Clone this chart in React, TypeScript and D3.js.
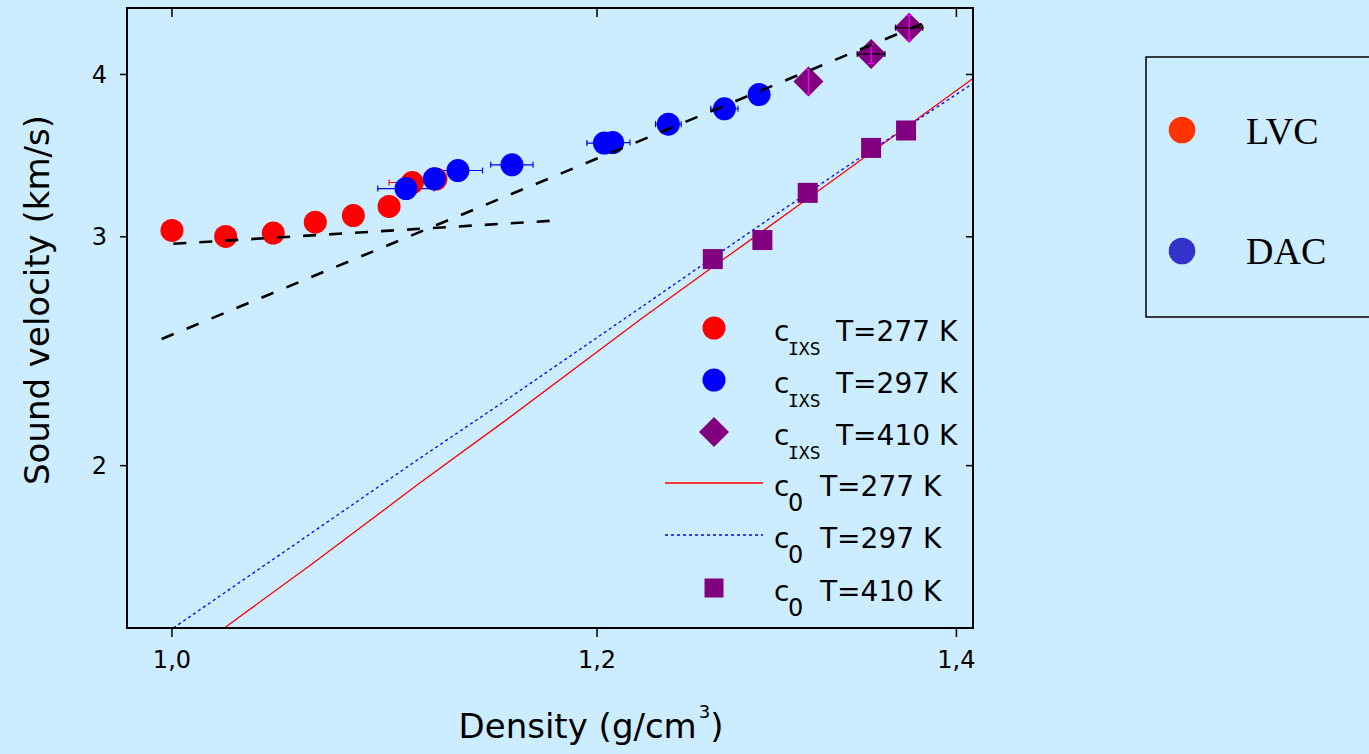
import React from "react";
import * as d3 from "d3";

// ---------- data ----------
const xTicks = [1.0, 1.2, 1.4];
const yTicks = [2, 3, 4];

// c_IXS, T=277 K (red circles)
const redD = [1.0, 1.0233, 1.0444, 1.0634, 1.0809, 1.0976, 1.1086, 1.1199];
const redV = [3.034, 3.002, 3.02, 3.079, 3.115, 3.166, 3.303, 3.323];
const redXErr = [0, 0, 0, 0, 0, 0, 0.011, 0];
const redYErr = [0, 0, 0, 0, 0, 0, 0.03, 0.05];

// c_IXS, T=297 K (blue circles)
const blueD = [1.1056, 1.1191, 1.1305, 1.157, 1.2038, 1.2081, 1.2373, 1.2674, 1.2864];
const blueV = [3.268, 3.325, 3.374, 3.408, 3.542, 3.545, 3.663, 3.764, 3.86];
const blueXErr = [0.0133, 0, 0.012, 0.0105, 0.009, 0.009, 0.0068, 0.0074, 0.002];

// c_IXS, T=410 K (diamonds)
const diaD = [1.3139, 1.3497, 1.3719];
const diaV = [3.95, 4.148, 4.346];
const diaXErr = [0, 0.008, 0.008];
const diaYErr = [0.085, 0.07, 0.095];

// c0, T=410 K (squares)
const sqD = [1.2611, 1.2882, 1.3135, 1.3497, 1.3701];
const sqV = [2.884, 2.983, 3.243, 3.512, 3.622];

// c0, T=277 K (red solid line)
const c277D = [1.0227, 1.0625, 1.1123, 1.1544, 1.2223, 1.2614, 1.3101, 1.4102];
const c277V = [1.5, 1.683, 1.94, 2.17, 2.59, 2.846, 3.185, 3.974];

// c0, T=297 K (blue dotted line)
const c297D = [1.0006, 1.0474, 1.1123, 1.1544, 1.2223, 1.2832, 1.3357, 1.4102];
const c297V = [1.5, 1.708, 2.027, 2.248, 2.644, 3.038, 3.398, 3.939];

// dashed guide lines
const fitAD = [1.0006, 1.176];
const fitAV = [2.963, 3.086];
const fitBD = [0.9956, 1.3794];
const fitBV = [2.503, 4.375];

const legendTemps = ["T=277 K", "T=297 K", "T=410 K", "T=277 K", "T=297 K", "T=410 K"];
const sideLegend = ["LVC", "DAC"];

// ---------- layout ----------
const W = 1369;
const H = 754;
const L = 127, R = 973, T = 8, B = 628;
const BG = "#CCECFF";
const PURPLE = "#800080";
const FONT = "'Comic Sans MS', 'DejaVu Sans', sans-serif";

const x = d3.scaleLog().domain([0.9809, 1.41]).range([L, R]);
const y = d3.scaleLog().domain([1.5, 4.5]).range([B, T]);
const fmt = (v: number) => d3.format(".1f")(v).replace(".", ",");

const zip = (a: number[], b: number[]) => a.map((v, i) => [v, b[i]] as [number, number]);
const line = d3
  .line<[number, number]>()
  .x((d) => x(d[0]))
  .y((d) => y(d[1]));

function HErr({ d, v, e, color }: { d: number; v: number; e: number; color: string }) {
  if (!e) return null;
  const x0 = x(d - e), x1 = x(d + e), yy = y(v);
  return (
    <g stroke={color} strokeWidth={1.2}>
      <line x1={x0} x2={x1} y1={yy} y2={yy} />
      <line x1={x0} x2={x0} y1={yy - 3} y2={yy + 3} />
      <line x1={x1} x2={x1} y1={yy - 3} y2={yy + 3} />
    </g>
  );
}
function VErr({ d, v, e, color }: { d: number; v: number; e: number; color: string }) {
  if (!e) return null;
  const y0 = y(v - e), y1 = y(v + e), xx = x(d);
  return (
    <g stroke={color} strokeWidth={1.2}>
      <line x1={xx} x2={xx} y1={y0} y2={y1} />
      <line x1={xx - 3} x2={xx + 3} y1={y0} y2={y0} />
      <line x1={xx - 3} x2={xx + 3} y1={y1} y2={y1} />
    </g>
  );
}

const diamondPath = (cx: number, cy: number, h: number) =>
  `M${cx},${cy - h}L${cx + h},${cy}L${cx},${cy + h}L${cx - h},${cy}Z`;

export default function App() {
  const legendRows = [328, 380, 432, 483, 535, 588];
  return (
    <svg
      width={W}
      height={H}
      style={{ position: "absolute", left: 0, top: 0 }}
      fontFamily={FONT}
    >
      <rect x={0} y={0} width={W} height={H} fill={BG} />
      <defs>
        <clipPath id="plotClip">
          <rect x={L} y={T} width={R - L} height={B - T} />
        </clipPath>
      </defs>

      <g clipPath="url(#plotClip)">
        {/* c0 lines */}
        <path d={line(zip(c277D, c277V)) || ""} fill="none" stroke="#FF0000" strokeWidth={1.3} />
        <path
          d={line(zip(c297D, c297V)) || ""}
          fill="none"
          stroke="#0000FF"
          strokeWidth={1.3}
          strokeDasharray="3,3"
        />
        {/* squares */}
        {sqD.map((d, i) => (
          <rect key={"s" + i} x={x(d) - 10} y={y(sqV[i]) - 10} width={20} height={20} fill={PURPLE} />
        ))}
        {/* error bars under circles */}
        {blueD.map((d, i) => (
          <HErr key={"be" + i} d={d} v={blueV[i]} e={blueXErr[i]} color="#0000FF" />
        ))}
        {/* red circles */}
        {redD.map((d, i) => (
          <circle key={"r" + i} cx={x(d)} cy={y(redV[i])} r={11.5} fill="#FF0000" />
        ))}
        {redD.map((d, i) => (
          <g key={"re" + i}>
            <HErr d={d} v={redV[i]} e={redXErr[i]} color="#FF0000" />
            <VErr d={d} v={redV[i]} e={redYErr[i]} color="#FF0000" />
          </g>
        ))}
        {/* blue circles */}
        {blueD.map((d, i) => (
          <circle key={"b" + i} cx={x(d)} cy={y(blueV[i])} r={11.5} fill="#0000FF" />
        ))}
        {/* diamonds */}
        {diaD.map((d, i) => (
          <path key={"d" + i} d={diamondPath(x(d), y(diaV[i]), 15)} fill={PURPLE} />
        ))}
        {diaD.map((d, i) => (
          <g key={"de" + i}>
            <HErr d={d} v={diaV[i]} e={diaXErr[i]} color="#000000" />
            <VErr d={d} v={diaV[i]} e={diaYErr[i]} color="#FF00FF" />
          </g>
        ))}
        {/* dashed guides */}
        <path
          d={line(zip(fitAD, fitAV)) || ""}
          fill="none"
          stroke="#000"
          strokeWidth={2.6}
          strokeDasharray="13,13"
        />
        <path
          d={line(zip(fitBD, fitBV)) || ""}
          fill="none"
          stroke="#000"
          strokeWidth={2.6}
          strokeDasharray="13,14"
        />
      </g>

      {/* frame */}
      <rect x={L} y={T} width={R - L} height={B - T} fill="none" stroke="#000" strokeWidth={2} />

      {/* x ticks */}
      {xTicks.map((t) => (
        <g key={"xt" + t}>
          <line x1={x(t)} x2={x(t)} y1={B} y2={B + 9} stroke="#000" strokeWidth={1.5} />
          <line x1={x(t)} x2={x(t)} y1={T} y2={T + 9} stroke="#000" strokeWidth={1.5} />
          <text x={x(t)} y={668} textAnchor="middle" fontSize={24} fill="#000">
            {fmt(t)}
          </text>
        </g>
      ))}
      {/* y ticks */}
      {yTicks.map((t) => (
        <g key={"yt" + t}>
          <line x1={L - 7} x2={L} y1={y(t)} y2={y(t)} stroke="#000" strokeWidth={1.5} />
          <line x1={R - 7} x2={R} y1={y(t)} y2={y(t)} stroke="#000" strokeWidth={1.5} />
          <text x={107} y={y(t) + 8.5} textAnchor="end" fontSize={24} fill="#000">
            {t}
          </text>
        </g>
      ))}

      {/* axis titles */}
      <text x={591} y={738} textAnchor="middle" fontSize={34} fill="#000">
        Density (g/cm
        <tspan dx={2} dy={-20} fontSize={18}>3</tspan>
        <tspan dy={20}>)</tspan>
      </text>
      <text
        transform={`translate(49,300) rotate(-90)`}
        textAnchor="middle"
        fontSize={34}
        fill="#000"
      >
        Sound velocity (km/s)
      </text>

      {/* inner legend */}
      <circle cx={714} cy={legendRows[0]} r={11.5} fill="#FF0000" />
      <circle cx={714} cy={legendRows[1]} r={11.5} fill="#0000FF" />
      <path d={diamondPath(714, legendRows[2], 15)} fill={PURPLE} />
      <line x1={665} x2={763} y1={legendRows[3]} y2={legendRows[3]} stroke="#FF0000" strokeWidth={1.3} />
      <line
        x1={665}
        x2={763}
        y1={legendRows[4]}
        y2={legendRows[4]}
        stroke="#0000FF"
        strokeWidth={1.3}
        strokeDasharray="3,3"
      />
      <rect x={714 - 9.5} y={legendRows[5] - 9.5} width={19} height={19} fill={PURPLE} />
      {legendRows.map((ry, i) => {
        const ixs = i < 3;
        return (
          <g key={"lg" + i} fill="#000">
            <text x={774} y={ry + 13} fontSize={28}>
              c
            </text>
            {ixs ? (
              <text x={788} y={ry + 27} fontSize={18} fontFamily="'DejaVu Sans Mono', monospace">
                IXS
              </text>
            ) : (
              <text x={788} y={ry + 28} fontSize={24}>
                0
              </text>
            )}
            <text x={ixs ? 836 : 820} y={ry + 13} fontSize={28}>
              {legendTemps[i]}
            </text>
          </g>
        );
      })}

      {/* side legend */}
      <rect x={1146} y={57} width={240} height={260} fill="none" stroke="#000" strokeWidth={1.5} />
      <circle cx={1182} cy={130} r={13.3} fill="#FF3300" />
      <circle cx={1182} cy={251} r={13.3} fill="#3333CC" />
      <text x={1246} y={144} fontSize={38} fontFamily="'Liberation Serif', 'Times New Roman', serif" fill="#000">
        {sideLegend[0]}
      </text>
      <text x={1246} y={264} fontSize={38} fontFamily="'Liberation Serif', 'Times New Roman', serif" fill="#000">
        {sideLegend[1]}
      </text>
    </svg>
  );
}
